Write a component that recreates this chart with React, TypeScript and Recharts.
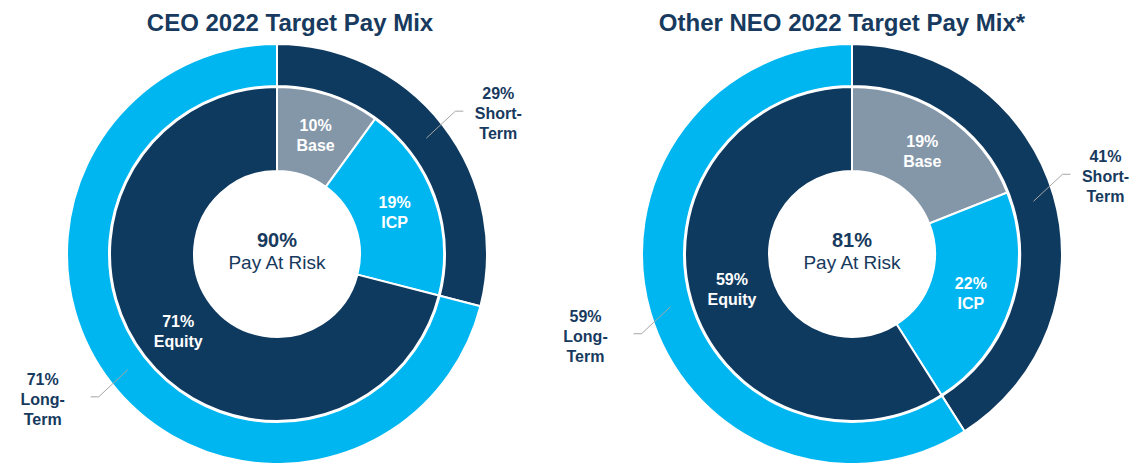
import { PieChart, Pie, Cell } from "recharts";

const componentNames = ["Base", "ICP", "Equity"];
const ceoComponentPct = [10, 19, 71];
const neoComponentPct = [19, 22, 59];

const termNames = ["Short-Term", "Long-Term"];
const ceoTermPct = [29, 71];
const neoTermPct = [41, 59];

const chartTitles = ["CEO 2022 Target Pay Mix", "Other NEO 2022 Target Pay Mix*"];
const payAtRiskPct = [90, 81];

const colors = {
  navy: "#0f3a60",
  blue: "#00b6f0",
  gray: "#8497a9",
  text: "#173a5e",
  leader: "#a6a6a6",
};
const innerFills = [colors.gray, colors.blue, colors.navy];
const outerFills = [colors.navy, colors.blue];
const font = "'Liberation Sans', Arial, sans-serif";
const RAD = Math.PI / 180;

const toRows = (names: string[], values: number[]) =>
  names.map((name, i) => ({ name, value: values[i] }));

// slice label for the inner ring; the first slice also draws the hole text
const innerLabel = (pct: number) => (props: any) => {
  const { cx, cy, midAngle, innerRadius, outerRadius, payload, index } = props;
  const r = (innerRadius + outerRadius) / 2;
  const x = cx + r * Math.cos(midAngle * RAD);
  const y = cy - r * Math.sin(midAngle * RAD);
  return (
    <g>
      <text
        x={x}
        y={y}
        textAnchor="middle"
        fill="#fff"
        fontFamily={font}
        fontWeight="bold"
        fontSize={16}
      >
        <tspan x={x} dy={-4}>{`${payload.value}%`}</tspan>
        <tspan x={x} dy={20}>{payload.name}</tspan>
      </text>
      {index === 0 && (
        <text x={cx} y={cy} textAnchor="middle" fill={colors.text} fontFamily={font}>
          <tspan x={cx} dy={-7} fontWeight="bold" fontSize={20}>{`${pct}%`}</tspan>
          <tspan x={cx} dy={22} fontSize={19}>Pay At Risk</tspan>
        </text>
      )}
    </g>
  );
};

function OuterLabel(props: any) {
  const { cx, cy, midAngle, innerRadius, outerRadius, payload } = props;
  const r = (innerRadius + outerRadius) / 2;
  const cos = Math.cos(midAngle * RAD);
  const sin = Math.sin(midAngle * RAD);
  const sx = cos >= 0 ? 1 : -1;
  const sy = sin >= 0 ? -1 : 1;
  const x0 = cx + r * cos;
  const y0 = cy - r * sin;
  const x1 = x0 + sx * 29;
  const y1 = y0 + sy * 27;
  const x2 = x1 + sx * 8;
  const tx = x2 + sx * (sx > 0 ? 35 : 48);
  const [first, second] = payload.name.split("-");
  return (
    <g>
      <polyline
        points={`${x0},${y0} ${x1},${y1} ${x2},${y1}`}
        fill="none"
        stroke={colors.leader}
        strokeWidth={1}
      />
      <text
        x={tx}
        y={y1}
        textAnchor="middle"
        fill={colors.text}
        fontFamily={font}
        fontWeight="bold"
        fontSize={16}
      >
        <tspan x={tx} dy={-12}>{`${payload.value}%`}</tspan>
        <tspan x={tx} dy={20}>{`${first}-`}</tspan>
        <tspan x={tx} dy={20}>{second}</tspan>
      </text>
    </g>
  );
}

const donuts = [
  { cx: 277, inner: toRows(componentNames, ceoComponentPct), outer: toRows(termNames, ceoTermPct), titleX: 290 },
  { cx: 852, inner: toRows(componentNames, neoComponentPct), outer: toRows(termNames, neoTermPct), titleX: 842 },
];

export default function App() {
  return (
    <div style={{ position: "relative", width: 1129, height: 463, background: "#fff" }}>
      <style>{`body{margin:0}`}</style>
      {donuts.map((d, i) => (
        <div
          key={chartTitles[i]}
          style={{
            position: "absolute",
            left: d.titleX - 250,
            width: 500,
            top: 11,
            textAlign: "center",
            fontFamily: font,
            fontWeight: "bold",
            fontSize: 24,
            lineHeight: "24px",
            color: colors.text,
          }}
        >
          {chartTitles[i]}
        </div>
      ))}
      <PieChart width={1129} height={463} margin={{ top: 0, right: 0, bottom: 0, left: 0 }}>
        {donuts.map((d, i) => [
          <Pie
            key={`outer-${i}`}
            data={d.outer}
            dataKey="value"
            cx={d.cx}
            cy={254}
            innerRadius={168}
            outerRadius={210}
            startAngle={90}
            endAngle={-270}
            stroke="#fff"
            strokeWidth={2}
            label={OuterLabel}
            labelLine={false}
            isAnimationActive={false}
          >
            {d.outer.map((_, j) => (
              <Cell key={j} fill={outerFills[j]} />
            ))}
          </Pie>,
          <Pie
            key={`inner-${i}`}
            data={d.inner}
            dataKey="value"
            cx={d.cx}
            cy={254}
            innerRadius={83}
            outerRadius={167}
            startAngle={90}
            endAngle={-270}
            stroke="#fff"
            strokeWidth={2}
            label={innerLabel(payAtRiskPct[i])}
            labelLine={false}
            isAnimationActive={false}
          >
            {d.inner.map((_, j) => (
              <Cell key={j} fill={innerFills[j]} />
            ))}
          </Pie>,
        ])}
      </PieChart>
    </div>
  );
}
